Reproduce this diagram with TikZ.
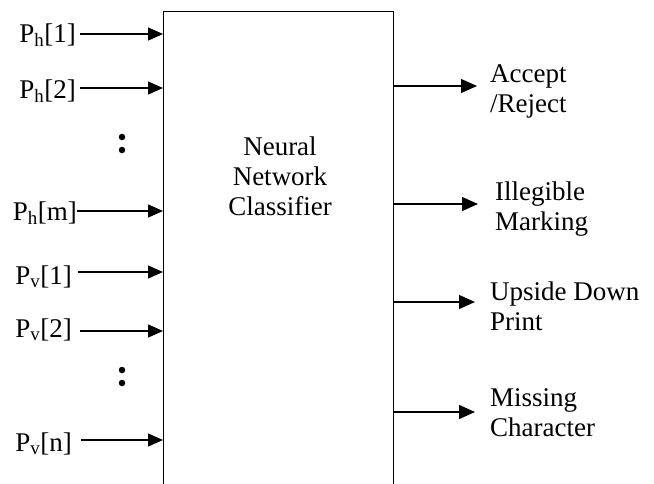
\documentclass[tikz,border=0pt]{standalone}
\usepackage{fontspec}
\setmainfont{Liberation Serif}
\usetikzlibrary{arrows.meta}
\begin{document}
\begin{tikzpicture}[x=1pt,y=-1pt,
  lbl/.style={font=\fontsize{27}{30}\selectfont, inner sep=0pt, anchor=base east},
  outlbl/.style={font=\fontsize{27}{30}\selectfont, inner sep=0pt, anchor=west, align=left},
  conn/.style={line width=1.3pt, -{Triangle[length=15pt,width=13pt]}},
  outconn/.style={line width=1.3pt, -{Triangle[length=16pt,width=14pt]}},
  dotmark/.style={circle, fill=black, inner sep=0pt, minimum size=6.5pt}]
\useasboundingbox (0,0) rectangle (654,483);
\clip (0,0) rectangle (654,483);
\node[draw, line width=1pt, minimum width=230pt, minimum height=520pt, anchor=north west, inner sep=0pt] (box) at (163,11) {};
\node[font=\fontsize{27}{30}\selectfont, align=center, inner sep=0pt] (cls) at (280,176) {Neural\\Network\\Classifier};
% inputs
\node[lbl] (ph1) at (76,42) {P\textsubscript{h}[1]};
\node[lbl] (ph2) at (76,98) {P\textsubscript{h}[2]};
\node[lbl] (phm) at (77,220) {P\textsubscript{h}[m]};
\node[lbl] (pv1) at (72,284) {P\textsubscript{v}[1]};
\node[lbl] (pv2) at (72,337) {P\textsubscript{v}[2]};
\node[lbl] (pvn) at (72,451) {P\textsubscript{v}[n]};
\coordinate (i1) at (163,34);
\coordinate (i2) at (163,88);
\coordinate (im) at (163,211);
\coordinate (j1) at (163,272);
\coordinate (j2) at (163,331);
\coordinate (jn) at (163,440);
\draw[conn] (80,34) -- (i1);
\draw[conn] (80,88) -- (i2);
\draw[conn] (77,211) -- (im);
\draw[conn] (78,272) -- (j1);
\draw[conn] (80,331) -- (j2);
\draw[conn] (81,440) -- (jn);
\node[dotmark] (d1) at (122,137) {};
\node[dotmark] (d2) at (122,150) {};
\node[dotmark] (d3) at (122,370) {};
\node[dotmark] (d4) at (122,383) {};
% outputs
\coordinate (o1) at (393,86);
\coordinate (o2) at (393,204);
\coordinate (o3) at (393,302);
\coordinate (o4) at (393,412);
\node[outlbl] (acc) at (490,91) {Accept\\/Reject};
\node[outlbl] (ill) at (495,209) {Illegible\\Marking};
\node[outlbl] (ups) at (490,306) {Upside Down\\Print};
\node[outlbl] (mis) at (490,413) {Missing\\Character};
\draw[outconn] (o1) -- ++(84,0) coordinate (e1);
\draw[outconn] (o2) -- ++(85,0) coordinate (e2);
\draw[outconn] (o3) -- ++(82,0) coordinate (e3);
\draw[outconn] (o4) -- ++(82,0) coordinate (e4);
\end{tikzpicture}
\end{document}
